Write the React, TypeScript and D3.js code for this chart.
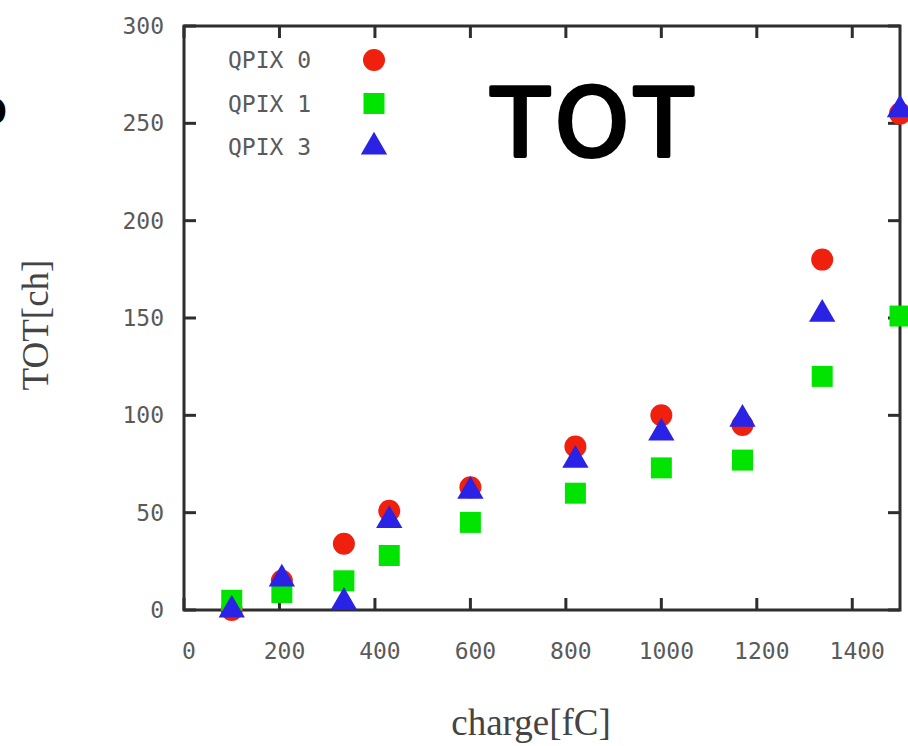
import React from "react";
import * as d3 from "d3";

// Injected charge per measurement point [fC]
const charge = [100, 205, 335, 430, 600, 820, 1000, 1170, 1337, 1500];
// Measured TOT [ch] per pixel
const qpix0 = [0, 15, 34, 51, 63, 84, 100, 95, 180, 255];
const qpix1 = [5, 9, 15, 28, 45, 60, 73, 77, 120, 151];
const qpix3 = [0, 16, 4, 46, 61, 77, 91, 98, 152, 257];

const seriesNames = ["QPIX 0", "QPIX 1", "QPIX 3"];
const xTicks = [0, 200, 400, 600, 800, 1000, 1200, 1400];
const yTicks = [0, 50, 100, 150, 200, 250, 300];

const W = 908;
const H = 746;
const left = 184;
const right = 900;
const top = 26;
const bottom = 610;

const RED = "#f0200f";
const GREEN = "#00e400";
const BLUE = "#2a22e4";
const FRAME = "#2e2e2e";
const LABEL = "#5a5a5a";
const MONO = "'DejaVu Sans Mono', 'Liberation Mono', monospace";
const SERIF = "'Liberation Serif', 'DejaVu Serif', serif";

const x = d3.scaleLinear().domain([0, 1500]).range([left, right]);
const y = d3.scaleLinear().domain([0, 300]).range([bottom, top]);

const circlePath = d3.symbol().type(d3.symbolCircle).size(Math.PI * 11 * 11)();
const squarePath = d3.symbol().type(d3.symbolSquare).size(21 * 21)();
const trianglePath = d3.symbol().type(d3.symbolTriangle).size(300)();

const series = [
  { name: seriesNames[0], values: qpix0, path: circlePath, color: RED },
  { name: seriesNames[1], values: qpix1, path: squarePath, color: GREEN },
  { name: seriesNames[2], values: qpix3, path: trianglePath, color: BLUE },
];

const tickLen = 12;

export default function App() {
  return (
    <svg
      width={W}
      height={H}
      style={{ position: "absolute", left: 0, top: 0, background: "#fff" }}
    >
      <rect x={0} y={0} width={W} height={H} fill="#fff" />

      {/* panel label, running off the left edge */}
      <text
        x={6}
        y={122}
        textAnchor="end"
        fontFamily="'DejaVu Sans', sans-serif"
        fontSize={40}
        fill="#000"
        stroke="#000"
        strokeWidth={3}
        strokeLinejoin="round"
      >
        o
      </text>

      {/* ticks, drawn inward on all four sides */}
      <g stroke={FRAME} strokeWidth={3}>
        {xTicks.map((t) => (
          <g key={"xt" + t}>
            <line x1={x(t)} x2={x(t)} y1={bottom} y2={bottom - tickLen} />
            <line x1={x(t)} x2={x(t)} y1={top} y2={top + tickLen} />
          </g>
        ))}
        {yTicks.map((t) => (
          <g key={"yt" + t}>
            <line x1={left} x2={left + tickLen} y1={y(t)} y2={y(t)} />
            <line x1={right} x2={right - tickLen} y1={y(t)} y2={y(t)} />
          </g>
        ))}
      </g>

      {/* frame */}
      <rect
        x={left}
        y={top}
        width={right - left}
        height={bottom - top}
        fill="none"
        stroke={FRAME}
        strokeWidth={3}
      />

      {/* tick labels */}
      <g fontFamily={MONO} fontSize={23} fill={LABEL}>
        {xTicks.map((t) => (
          <text key={"xl" + t} x={x(t) + 5} y={659} textAnchor="middle">
            {t}
          </text>
        ))}
        {yTicks.map((t) => (
          <text key={"yl" + t} x={164} y={y(t) + 8} textAnchor="end">
            {t}
          </text>
        ))}
      </g>

      {/* axis titles */}
      <text
        x={531}
        y={735}
        textAnchor="middle"
        fontFamily={SERIF}
        fontSize={37}
        fill="#444"
      >
        charge[fC]
      </text>
      <text
        transform="translate(48,325) rotate(-90)"
        textAnchor="middle"
        fontFamily={SERIF}
        fontSize={37}
        fill="#444"
      >
        TOT[ch]
      </text>

      {/* data markers */}
      {series.map((s) => (
        <g key={s.name} fill={s.color}>
          {s.values.map((v, i) => (
            <path
              key={i}
              d={s.path || ""}
              transform={`translate(${x(charge[i])},${y(v)})`}
            />
          ))}
        </g>
      ))}

      {/* legend */}
      {series.map((s, i) => (
        <g key={"lg" + s.name} transform={`translate(0,${60 + i * 43.5})`}>
          <text x={228} y={8} fontFamily={MONO} fontSize={23} fill={LABEL}>
            {s.name}
          </text>
          <path d={s.path || ""} transform="translate(374,0)" fill={s.color} />
        </g>
      ))}

      {/* title */}
      <text
        x={595}
        y={156}
        textAnchor="middle"
        fontFamily="'DejaVu Sans', sans-serif"
        fontSize={94}
        fill="#000"
        stroke="#000"
        strokeWidth={4}
        strokeLinejoin="round"
        letterSpacing={6}
      >
        TOT
      </text>
    </svg>
  );
}
